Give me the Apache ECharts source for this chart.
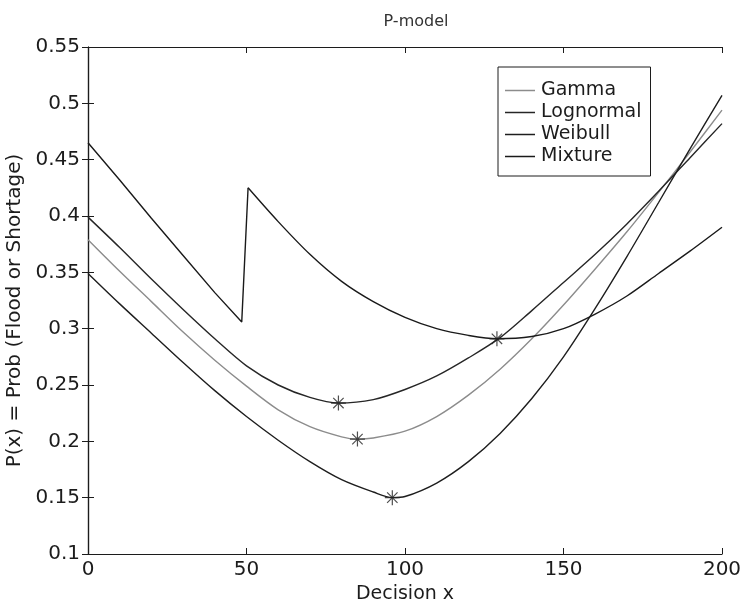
<!DOCTYPE html>
<html>
<head>
<meta charset="utf-8">
<script src="https://cdn.jsdelivr.net/npm/echarts@6/dist/echarts.min.js"></script>
<style>
  html, body { margin: 0; padding: 0; background: #fff; }
  #main { width: 740px; height: 605px; }
</style>
</head>
<body>
<div id="main"></div>
<script>
// values
var gammaX = [0, 10, 20, 30, 40, 50, 60, 70, 80, 85, 90, 100, 110, 120, 130, 140, 150, 160, 170, 180, 190, 200];
var gammaY = [0.379, 0.351, 0.324, 0.297, 0.272, 0.249, 0.228, 0.213, 0.204, 0.202, 0.203, 0.209, 0.222, 0.241, 0.264, 0.291, 0.321, 0.353, 0.386, 0.421, 0.457, 0.494];

var lognormalX = [0, 10, 20, 30, 40, 50, 60, 70, 79, 90, 100, 110, 120, 130, 140, 150, 160, 170, 180, 190, 200];
var lognormalY = [0.399, 0.372, 0.344, 0.317, 0.291, 0.267, 0.250, 0.239, 0.234, 0.237, 0.246, 0.258, 0.274, 0.292, 0.316, 0.341, 0.366, 0.393, 0.422, 0.452, 0.482];

var weibullX = [0, 10, 20, 30, 40, 50, 60, 70, 80, 90, 96, 100, 110, 120, 130, 140, 150, 160, 170, 180, 190, 200];
var weibullY = [0.349, 0.322, 0.296, 0.270, 0.245, 0.222, 0.201, 0.182, 0.166, 0.155, 0.150, 0.151, 0.163, 0.182, 0.207, 0.238, 0.275, 0.318, 0.364, 0.412, 0.460, 0.507];

// mixture has a jump near x = 50, kept as two pieces
var mixtureLowX = [0, 10, 20, 30, 40, 48.5, 50.5];
var mixtureLowY = [0.465, 0.432, 0.398, 0.365, 0.332, 0.306, 0.425];
var mixtureHighX = [50.5, 60, 70, 80, 90, 100, 110, 120, 129, 140, 150, 160, 170, 180, 190, 200];
var mixtureHighY = [0.425, 0.395, 0.366, 0.342, 0.324, 0.310, 0.300, 0.294, 0.291, 0.293, 0.300, 0.313, 0.329, 0.349, 0.369, 0.390];

// optimum markers (*)
var minX = [85, 79, 96, 129];
var minY = [0.202, 0.234, 0.150, 0.291];

var names = ['Gamma', 'Lognormal', 'Weibull', 'Mixture'];

function pairs(xs, ys) {
  var out = [];
  for (var i = 0; i < xs.length; i++) out.push([xs[i], ys[i]]);
  return out;
}

var ink = '#1c1c1c';
var font = 'DejaVu Sans';
var star = 'path://M9.2,0h1.6v20h-1.6z M0,9.2h20v1.6h-20z M2.5,3.6L3.6,2.5L17.5,16.4L16.4,17.5z M16.4,2.5L17.5,3.6L3.6,17.5L2.5,16.4z';

function lineSeries(name, xs, ys, color, smooth) {
  return {
    name: name,
    type: 'line',
    data: pairs(xs, ys),
    symbol: 'none',
    smooth: smooth,
    lineStyle: { color: color, width: 1.4 },
    itemStyle: { color: color },
    animation: false
  };
}

var chart = echarts.init(document.getElementById('main'), null, { renderer: 'canvas' });

var option = {
  backgroundColor: '#ffffff',
  animation: false,
  title: {
    text: 'P-model',
    left: 411,
    top: 9,
    textAlign: 'center',
    textStyle: { fontFamily: font, fontSize: 16, fontWeight: 'normal', color: '#333' }
  },
  grid: { left: 88, right: 18, top: 47, bottom: 51, outerBoundsMode: 'none' },
  legend: {
    data: names,
    orient: 'vertical',
    left: 498,
    top: 67,
    icon: 'path://M0,0h30v1.5h-30z',
    itemWidth: 30,
    itemHeight: 2,
    itemGap: 3,
    padding: [14, 9, 10, 7],
    borderColor: ink,
    borderWidth: 1,
    backgroundColor: '#fff',
    textStyle: { fontFamily: font, fontSize: 19, color: ink, padding: [0, 0, 0, 1] }
  },
  xAxis: [
    {
      type: 'value', min: 0, max: 200, interval: 50, position: 'bottom',
      name: 'Decision x', nameLocation: 'middle', nameGap: 27,
      nameTextStyle: { fontFamily: font, fontSize: 19, color: ink },
      axisLine: { lineStyle: { color: ink, width: 1.2 } },
      axisTick: { inside: true, length: 6, lineStyle: { color: ink } },
      axisLabel: { fontFamily: font, fontSize: 20, color: ink, margin: 6 },
      splitLine: { show: false }
    },
    {
      type: 'value', min: 0, max: 200, interval: 50, position: 'top',
      axisLine: { lineStyle: { color: ink, width: 1.2 } },
      axisTick: { inside: true, length: 6, lineStyle: { color: ink } },
      axisLabel: { show: false },
      splitLine: { show: false }
    }
  ],
  yAxis: [
    {
      type: 'value', min: 0.1, max: 0.55, interval: 0.05, position: 'left',
      name: 'P(x) = Prob (Flood or Shortage)', nameLocation: 'middle', nameGap: 57,
      nameTextStyle: { fontFamily: font, fontSize: 20, color: ink, padding: [0, 20, 0, 0] },
      axisLine: { show: true, lineStyle: { color: ink, width: 1.2 } },
      axisTick: { show: true, inside: true, length: 6, lineStyle: { color: ink } },
      axisLabel: {
        fontFamily: font, fontSize: 20, color: ink, margin: 8,
        formatter: function (v) { return String(+v.toFixed(2)); }
      },
      splitLine: { show: false }
    },
    {
      type: 'value', min: 0.1, max: 0.55, interval: 0.05, position: 'right',
      axisLine: { show: true, lineStyle: { color: ink, width: 1.2 } },
      axisTick: { show: true, inside: true, length: 6, lineStyle: { color: ink } },
      axisLabel: { show: false },
      splitLine: { show: false }
    }
  ],
  series: [
    lineSeries('Gamma', gammaX, gammaY, '#8c8c8c', 0.3),
    lineSeries('Lognormal', lognormalX, lognormalY, '#262626', 0.3),
    lineSeries('Weibull', weibullX, weibullY, '#1e1e1e', 0.3),
    lineSeries('Mixture', mixtureLowX, mixtureLowY, '#1a1a1a', false),
    lineSeries('Mixture', mixtureHighX, mixtureHighY, '#1a1a1a', 0.3),
    {
      name: 'optimum',
      type: 'scatter',
      data: pairs(minX, minY),
      symbol: star,
      symbolSize: 15,
      itemStyle: { color: '#222' },
      z: 5,
      animation: false
    }
  ]
};

chart.setOption(option);
</script>
</body>
</html>
